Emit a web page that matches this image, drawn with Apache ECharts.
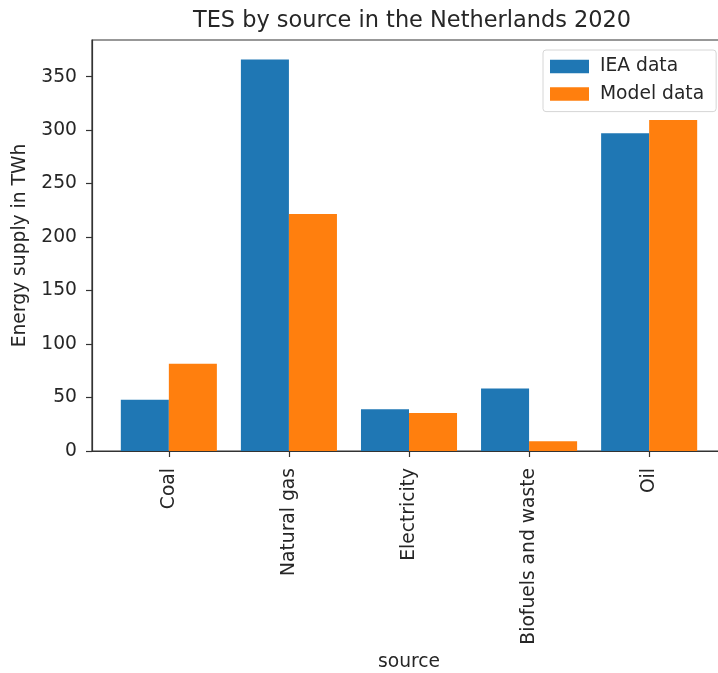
<!DOCTYPE html>
<html>
<head>
<meta charset="utf-8">
<script src="https://cdn.jsdelivr.net/npm/echarts@6/dist/echarts.min.js"></script>
<style>
  html, body { margin: 0; padding: 0; background: #ffffff; overflow: hidden; }
  #chart { width: 730px; height: 673px; }
</style>
</head>
<body>
<div id="chart"></div>
<script>
// Total energy supply by source, Netherlands 2020 (TWh)
const categories = ['Coal', 'Natural gas', 'Electricity', 'Biofuels and waste', 'Oil'];
const ieaData = [48, 366, 39, 58.5, 297];
const modelData = [81.5, 221.5, 35.5, 9, 309.5];
const seriesNames = ['IEA data', 'Model data'];
const yTicks = [0, 50, 100, 150, 200, 250, 300, 350];

const FONT = 'DejaVu Sans';
const FS = 18.7;
const TEXT = '#262626';
const AXIS = '#333333';
const BAR_HALF = 0.2; // each bar is 0.4 category units wide

// value range with a 5% headroom on y and 0.24 margin on either side of the bar group
const yMax = Math.max(...ieaData, ...modelData) * 1.05;
const xMin = -0.4 - 0.24;
const xMax = categories.length - 1 + 0.4 + 0.24;
const positions = categories.map((_, i) => i);

const chart = echarts.init(document.getElementById('chart'), null, { renderer: 'canvas' });

const plotLeft = 92, plotTop = 40, plotBottom = 451;
const plotWidth = 634;
const barPx = plotWidth / (xMax - xMin) * 0.4;

chart.setOption({
  animation: false,
  backgroundColor: '#ffffff',
  textStyle: { fontFamily: FONT },
  title: {
    text: 'TES by source in the Netherlands 2020',
    left: plotLeft + plotWidth / 2 - 2,
    textAlign: 'center',
    top: 5,
    textStyle: { fontFamily: FONT, fontSize: FS * 1.2, fontWeight: 'normal', color: TEXT }
  },
  legend: {
    orient: 'vertical',
    left: 543,
    top: 50,
    padding: [7, 12, 8, 7],
    itemWidth: 39,
    itemHeight: 13.5,
    itemGap: 8.6,
    borderColor: '#d6d6d6',
    borderWidth: 1,
    borderRadius: 3,
    backgroundColor: 'rgba(255,255,255,0.8)',
    icon: 'rect',
    textStyle: { fontFamily: FONT, fontSize: FS, color: TEXT, padding: [0, 0, 0, 6] },
    data: seriesNames
  },
  grid: {
    left: plotLeft,
    top: plotTop,
    width: plotWidth,
    height: plotBottom - plotTop,
    containLabel: false,
    outerBoundsMode: 'none',
    show: true,
    borderColor: AXIS,
    borderWidth: 1.2,
    backgroundColor: 'transparent'
  },
  xAxis: {
    type: 'value',
    min: xMin,
    max: xMax,
    name: 'source',
    nameLocation: 'middle',
    nameGap: 200,
    nameTextStyle: { fontFamily: FONT, fontSize: FS, color: TEXT },
    axisLine: { show: true, onZero: false, lineStyle: { color: AXIS, width: 1.2 } },
    axisTick: { show: true, customValues: positions, length: 6, lineStyle: { color: AXIS, width: 1.2 } },
    axisLabel: {
      customValues: positions,
      rotate: 90,
      margin: 17,
      fontFamily: FONT,
      fontSize: FS,
      color: TEXT,
      formatter: v => categories[Math.round(v)] || ''
    },
    splitLine: { show: false }
  },
  yAxis: {
    type: 'value',
    min: 0,
    max: yMax,
    name: 'Energy supply in TWh',
    nameLocation: 'middle',
    nameGap: 62,
    nameRotate: 90,
    nameTextStyle: { fontFamily: FONT, fontSize: FS, color: TEXT },
    axisLine: { show: true, onZero: false, lineStyle: { color: AXIS, width: 1.2 } },
    axisTick: { show: true, customValues: yTicks, length: 6, lineStyle: { color: AXIS, width: 1.2 } },
    axisLabel: {
      customValues: yTicks,
      margin: 15,
      fontFamily: FONT,
      fontSize: FS,
      color: TEXT
    },
    splitLine: { show: false }
  },
  series: [
    {
      name: seriesNames[0],
      type: 'bar',
      barWidth: barPx,
      barGap: '-100%',
      itemStyle: { color: '#1f77b4' },
      data: ieaData.map((v, i) => [i - BAR_HALF, v])
    },
    {
      name: seriesNames[1],
      type: 'bar',
      barWidth: barPx,
      barGap: '-100%',
      itemStyle: { color: '#ff7f0e' },
      data: modelData.map((v, i) => [i + BAR_HALF, v])
    }
  ]
});
</script>
</body>
</html>
